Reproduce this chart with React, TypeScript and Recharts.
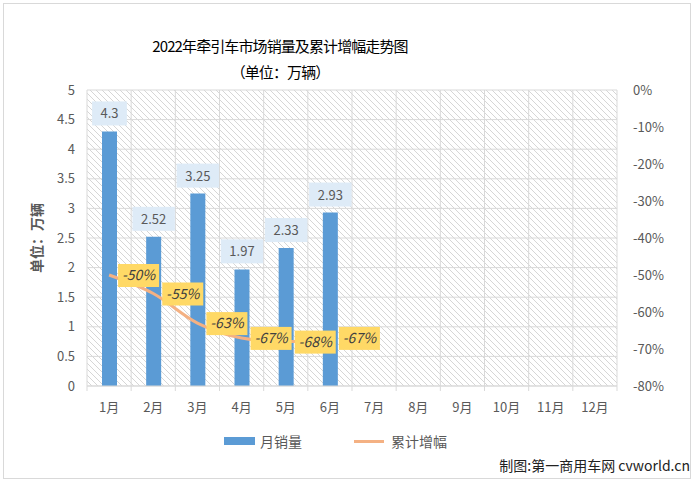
import { ComposedChart, Bar, Line, XAxis, YAxis, CartesianGrid, Legend, LabelList } from 'recharts'

const months = ['1月', '2月', '3月', '4月', '5月', '6月', '7月', '8月', '9月', '10月', '11月', '12月']
const monthlySales = [4.3, 2.52, 3.25, 1.97, 2.33, 2.93, null, null, null, null, null, null]
const cumulativeGrowth = [-50, -55, -63, -67, -68, -67, null, null, null, null, null, null]
const leftTicks = [0, 0.5, 1, 1.5, 2, 2.5, 3, 3.5, 4, 4.5, 5]
const rightTicks = [-80, -70, -60, -50, -40, -30, -20, -10, 0]

const data = months.map((m, i) => ({ month: m, sales: monthlySales[i], growth: cumulativeGrowth[i] }))

const FONT = '"Noto Sans CJK SC", "Noto Sans", sans-serif'
const BAR = '#5B9BD5'
const LINE = '#F4B183'
const GRID = '#d9d9d9'
const TXT = '#595959'

const BarLabel = (props: any) => {
  const { x, y, width, value } = props
  if (value == null) return null
  const s = String(value)
  const w = s.length * 7.6 + 12
  const cx = x + width / 2
  return (
    <g>
      <rect x={cx - w / 2} y={y - 30} width={w} height={24} fill="#DEEBF7" />
      <text x={cx} y={y - 13} textAnchor="middle" fontSize={13} fill={TXT} fontFamily={FONT}>{s}</text>
    </g>
  )
}

const GrowthLabel = (props: any) => {
  const { x, y, value } = props
  if (value == null) return null
  return (
    <g>
      <rect x={x + 9} y={y - 11} width={41} height={23} fill="#FFD966" />
      <text x={x + 29.5} y={y + 5} textAnchor="middle" fontSize={14} fontStyle="italic" fill="#404040" fontFamily={FONT}>{`${value}%`}</text>
    </g>
  )
}

const MonthTick = (props: any) => {
  const { x, y, payload, index, width, visibleTicksCount } = props
  const half = width / visibleTicksCount / 2
  return (
    <g>
      {index === 0 && <line x1={x - half} x2={x - half} y1={y - 8} y2={y - 3} stroke={GRID} />}
      <line x1={x + half} x2={x + half} y1={y - 8} y2={y - 3} stroke={GRID} />
      <text x={x} y={y + 18} textAnchor="middle" fontSize={13} fill={TXT} fontFamily={FONT}>{payload.value}</text>
    </g>
  )
}

const LegendBox = () => (
  <div style={{ display: 'flex', alignItems: 'center', height: 20, fontFamily: FONT, fontSize: 14, color: TXT }}>
    <span style={{ display: 'inline-block', width: 31, height: 8, background: BAR, marginRight: 5 }} />
    <span style={{ marginRight: 52 }}>月销量</span>
    <span style={{ display: 'inline-block', width: 30, height: 3, background: LINE, marginRight: 7 }} />
    <span>累计增幅</span>
  </div>
)

export default function App() {
  return (
    <div style={{ position: 'absolute', left: 0, top: 0, width: 700, height: 482, background: '#fff' }}>
      <svg width={0} height={0} style={{ position: 'absolute' }}>
        <defs>
          <pattern id="hatch" patternUnits="userSpaceOnUse" width={6} height={6}>
            <rect width={6} height={6} fill="#fff" />
            <path d="M-1,-1 L7,7 M-1,5 L1,7 M5,-1 L7,1" stroke="#d6d6d6" strokeWidth={1} />
          </pattern>
        </defs>
      </svg>
      <div style={{ position: 'absolute', left: 3, top: 3, width: 686, height: 474, border: `1px solid ${GRID}` }} />
      <div style={{ position: 'absolute', left: 0, width: 560, top: 33, textAlign: 'center', fontFamily: FONT, fontSize: 15, letterSpacing: -0.9, color: '#000', lineHeight: '26px' }}>
        2022年牵引车市场销量及累计增幅走势图<br />（单位：万辆）
      </div>
      <div style={{ position: 'absolute', right: 10, top: 455, fontFamily: FONT, fontSize: 14, color: '#222' }}>
        制图:第一商用车网 cvworld.cn
      </div>
      <ComposedChart width={700} height={482} data={data} margin={{ top: 90, right: 0, bottom: 31, left: 0 }}>
        <CartesianGrid
          yAxisId="left"
          stroke={GRID}
          fill="url(#hatch)"
          verticalCoordinatesGenerator={({ offset }: any) =>
            months.map((_, i) => offset.left + (i * offset.width) / months.length).concat(offset.left + offset.width)
          }
        />
        <XAxis dataKey="month" height={45} tick={<MonthTick />} tickLine={false} axisLine={{ stroke: GRID }} interval={0} />
        <YAxis
          yAxisId="left"
          width={87}
          domain={[0, 5]}
          ticks={leftTicks}
          axisLine={false}
          tickLine={false}
          tickSize={0}
          tickMargin={12}
          tick={{ fontSize: 13, fill: TXT, fontFamily: FONT }}
          label={(p: any) => (
            <text
              x={42}
              y={p.viewBox.y + p.viewBox.height / 2}
              transform={`rotate(-90, 42, ${p.viewBox.y + p.viewBox.height / 2})`}
              textAnchor="middle"
              fontSize={14}
              fontWeight="bold"
              fill={TXT}
              fontFamily={FONT}
            >
              单位：万辆
            </text>
          )}
        />
        <YAxis
          yAxisId="right"
          orientation="right"
          width={83}
          domain={[-80, 0]}
          ticks={rightTicks}
          axisLine={false}
          tickLine={false}
          tickSize={0}
          tickMargin={16}
          tickFormatter={(v: number) => `${v}%`}
          tick={{ fontSize: 13, fill: TXT, fontFamily: FONT }}
        />
        <Legend verticalAlign="bottom" content={<LegendBox />} wrapperStyle={{ left: 224, width: 260 }} />
        <Bar yAxisId="left" dataKey="sales" fill={BAR} barSize={15} isAnimationActive={false}>
          <LabelList dataKey="sales" content={<BarLabel />} />
        </Bar>
        <Line yAxisId="right" type="monotone" dataKey="growth" stroke={LINE} strokeWidth={3} dot={false} isAnimationActive={false}>
          <LabelList dataKey="growth" content={<GrowthLabel />} />
        </Line>
      </ComposedChart>
    </div>
  )
}
